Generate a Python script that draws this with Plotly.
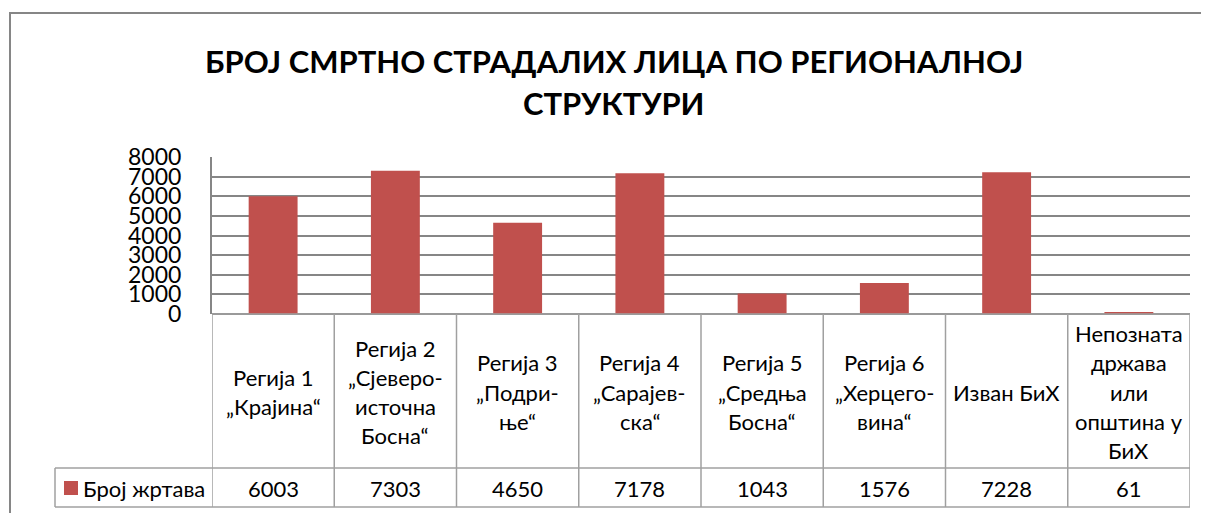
import plotly.graph_objects as go

# ---- data ----
categories = [
    "Регија 1\n„Крајина“",
    "Регија 2\n„Сјеверо-\nисточна\nБосна“",
    "Регија 3\n„Подри-\nње“",
    "Регија 4\n„Сарајев-\nска“",
    "Регија 5\n„Средња\nБосна“",
    "Регија 6\n„Херцего-\nвина“",
    "Изван БиХ",
    "Непозната\nдржава\nили\nопштина у\nБиХ",
]
victims = [6003, 7303, 4650, 7178, 1043, 1576, 7228, 61]
series_name = "Број жртава"
title_lines = ["БРОЈ СМРТНО СТРАДАЛИХ ЛИЦА ПО РЕГИОНАЛНОЈ", "СТРУКТУРИ"]
y_ticks = [0, 1000, 2000, 3000, 4000, 5000, 6000, 7000, 8000]

# ---- layout helpers (page body adds an 8px offset) ----
W, H = 1209, 513
OFF = 8
def px(x):
    return (x - OFF) / W
def py(y):
    return 1 - (y - OFF) / H

BAR = "#C0504D"
GRID = "#868686"
TBL = "#A0A0A0"
FONT = "Lato, Carlito, 'Open Sans', sans-serif"

x_idx = list(range(len(categories)))

fig = go.Figure()
fig.add_trace(go.Bar(x=x_idx, y=victims, width=0.4, marker=dict(color=BAR, line=dict(width=0)),
                     name=series_name, showlegend=False))

fig.update_layout(
    width=W, height=H,
    margin=dict(l=0, r=0, t=0, b=0, pad=0, autoexpand=False),
    paper_bgcolor="white", plot_bgcolor="white",
    xaxis=dict(domain=[px(212), px(1190)], range=[-0.5, len(categories) - 0.5],
               showticklabels=False, showgrid=False, zeroline=False, showline=False,
               automargin=False, fixedrange=True),
    yaxis=dict(domain=[py(314), py(157)], range=[0, 8000], tickvals=y_ticks,
               ticktext=[str(v) for v in y_ticks],
               showgrid=True, gridcolor=GRID, gridwidth=2,
               zeroline=True, zerolinecolor=GRID, zerolinewidth=2,
               showline=True, linecolor=GRID, linewidth=2,
               ticks="", ticklabelstandoff=24, automargin=False,
               tickfont=dict(family=FONT, size=23, color="black"),
               fixedrange=True),
    font=dict(family=FONT, color="black"),
)

shapes = []
# outer chart border
shapes.append(dict(type="rect", xref="paper", yref="paper",
                   x0=px(10), y0=py(530), x1=px(1225), y1=py(13),
                   line=dict(color=GRID, width=2), fillcolor="rgba(0,0,0,0)", layer="below"))

# data table lines
tl = dict(color=TBL, width=1.5)
shapes.append(dict(type="line", xref="paper", yref="paper", x0=px(212), x1=px(1190), y0=py(314), y1=py(314), line=tl))
shapes.append(dict(type="line", xref="paper", yref="paper", x0=px(55), x1=px(1190), y0=py(468), y1=py(468), line=tl))
shapes.append(dict(type="line", xref="paper", yref="paper", x0=px(55), x1=px(1190), y0=py(507), y1=py(507), line=tl))
shapes.append(dict(type="line", xref="paper", yref="paper", x0=px(55), x1=px(55), y0=py(468), y1=py(507), line=tl))
for i in range(len(categories) + 1):
    shapes.append(dict(type="line", xref="x", yref="paper", x0=i - 0.5, x1=i - 0.5,
                       y0=py(314), y1=py(507), line=tl))
# legend key square
shapes.append(dict(type="rect", xref="paper", yref="paper", x0=px(64), x1=px(78), y0=py(495), y1=py(481),
                   line=dict(width=0), fillcolor=BAR))

annotations = []
# title
for k, t in enumerate(title_lines):
    annotations.append(dict(text=t, xref="paper", yref="paper", x=px(614), y=py(61 + 42 * k),
                            xanchor="center", yanchor="middle", showarrow=False,
                            font=dict(family=FONT, size=31, color="black", weight="bold")))

# category labels (each line placed individually)
LINE = 29.3
row_mid = 392
TXT = 22
for i, lab in enumerate(categories):
    lines = lab.split("\n")
    n = len(lines)
    for j, ln in enumerate(lines):
        yy = row_mid + (j - (n - 1) / 2) * LINE
        annotations.append(dict(text=ln, xref="x", yref="paper", x=i, y=py(yy),
                                xanchor="center", yanchor="middle", showarrow=False,
                                font=dict(family=FONT, size=TXT, color="black")))
# values row
for i, v in enumerate(victims):
    annotations.append(dict(text=str(v), xref="x", yref="paper", x=i, y=py(488),
                            xanchor="center", yanchor="middle", showarrow=False,
                            font=dict(family=FONT, size=TXT, color="black")))
# legend label
annotations.append(dict(text=series_name, xref="paper", yref="paper", x=px(81), y=py(488),
                        xanchor="left", yanchor="middle", showarrow=False,
                        font=dict(family=FONT, size=TXT, color="black")))

fig.update_layout(shapes=shapes, annotations=annotations)
fig.write_html("out.html")
